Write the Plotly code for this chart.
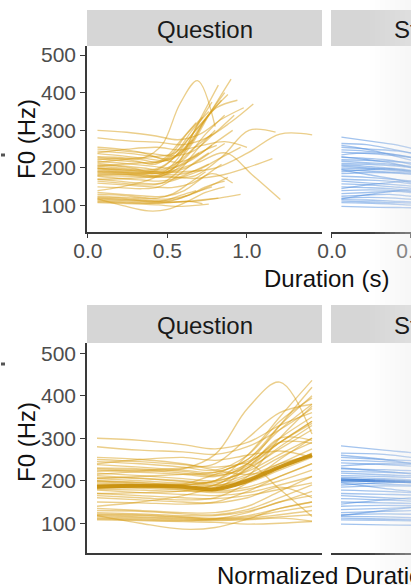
import numpy as np
import plotly.graph_objects as go

# ---------------------------------------------------------------- data
# F0 contours sampled at fixed points of normalized duration
NORM_POINTS = [0.0, 0.2, 0.4, 0.55, 0.7, 0.85, 1.0]
ONSET_S = 0.06  # voicing onset (s)

# Question utterances: duration (s) and F0 (Hz) at NORM_POINTS
Q_DUR = [0.74, 0.92, 0.98, 0.82, 0.78, 0.70, 0.66, 0.62, 0.85, 0.72,
         0.60, 0.68, 0.80, 0.90, 0.76, 0.72, 0.64, 1.10, 1.35, 1.12,
         0.70, 1.15, 0.66, 0.74, 0.85, 0.70, 0.78, 0.68, 0.82, 0.72,
         0.62, 0.90, 0.76, 0.66, 0.80, 0.70, 0.86, 0.94, 0.88, 0.80,
         0.75, 0.80, 0.72, 0.80, 0.84]
Q_F0 = [
    [215, 222, 228, 262, 370, 432, 310],
    [300, 295, 285, 275, 290, 330, 360],
    [280, 272, 268, 262, 280, 320, 370],
    [245, 240, 232, 225, 260, 340, 395],
    [238, 232, 225, 220, 250, 320, 380],
    [230, 228, 222, 215, 240, 300, 350],
    [225, 220, 215, 210, 235, 290, 335],
    [222, 225, 218, 212, 230, 275, 320],
    [218, 212, 205, 200, 222, 262, 300],
    [212, 206, 200, 195, 215, 255, 290],
    [208, 205, 198, 190, 205, 240, 275],
    [205, 200, 195, 198, 225, 280, 330],
    [200, 195, 192, 188, 200, 232, 265],
    [198, 192, 186, 182, 195, 225, 255],
    [195, 190, 185, 190, 240, 330, 420],
    [192, 188, 182, 178, 210, 300, 375],
    [188, 185, 180, 175, 185, 210, 240],
    [185, 182, 178, 172, 180, 200, 225],
    [182, 185, 190, 200, 240, 290, 288],
    [180, 178, 175, 180, 230, 300, 295],
    [178, 172, 168, 165, 172, 190, 210],
    [190, 188, 192, 215, 240, 180, 116],
    [170, 165, 160, 158, 165, 180, 195],
    [165, 160, 155, 160, 195, 250, 300],
    [160, 155, 150, 148, 160, 185, 160],
    [150, 148, 145, 150, 175, 210, 240],
    [135, 130, 125, 125, 140, 175, 210],
    [130, 128, 122, 120, 132, 160, 190],
    [125, 122, 118, 118, 128, 150, 175],
    [122, 120, 115, 112, 118, 135, 150],
    [120, 118, 114, 110, 115, 128, 140],
    [118, 115, 112, 110, 112, 120, 130],
    [115, 113, 110, 108, 110, 115, 120],
    [112, 110, 108, 106, 108, 112, 105],
    [110, 108, 106, 110, 125, 150, 165],
    [108, 106, 104, 102, 98, 100, 104],
    [250, 245, 238, 232, 245, 290, 340],
    [240, 250, 255, 248, 260, 270, 255],
    [228, 225, 230, 240, 300, 360, 380],
    [118, 100, 86, 90, 110, 135, 150],
    [140, 150, 165, 185, 210, 240, 260],
    [170, 172, 176, 190, 230, 290, 340],
    [255, 250, 240, 225, 215, 230, 260],
    [205, 210, 215, 220, 250, 330, 400],
    [200, 196, 190, 200, 260, 350, 436],
]

# Statement utterances: duration (s) and F0 (Hz) at NORM_POINTS
S_DUR = [0.85, 0.80, 0.90, 0.75, 0.88, 0.82, 0.70, 0.95, 0.78, 0.84,
         0.72, 0.90, 0.80, 0.86, 0.76, 0.92, 0.80, 0.74, 0.88, 0.82,
         0.78, 0.90, 0.84, 0.76, 0.86, 0.80, 0.92, 0.74, 0.88, 0.82,
         0.86, 0.80, 0.90, 0.78]
S_F0 = [
    [282, 272, 262, 250, 238, 222, 200],
    [265, 262, 250, 240, 228, 212, 195],
    [255, 250, 245, 235, 220, 205, 190],
    [248, 245, 238, 230, 218, 200, 182],
    [242, 238, 232, 225, 212, 198, 180],
    [235, 240, 236, 228, 215, 200, 185],
    [228, 226, 222, 215, 205, 192, 175],
    [222, 220, 216, 210, 200, 188, 170],
    [218, 214, 210, 205, 196, 185, 168],
    [212, 210, 206, 200, 192, 180, 165],
    [208, 205, 200, 196, 188, 176, 160],
    [205, 200, 195, 190, 182, 172, 158],
    [200, 198, 194, 188, 180, 170, 155],
    [196, 192, 188, 184, 178, 168, 152],
    [190, 195, 198, 192, 182, 170, 155],
    [185, 188, 186, 180, 172, 160, 148],
    [178, 175, 170, 165, 158, 150, 140],
    [170, 168, 165, 160, 152, 145, 135],
    [165, 160, 155, 150, 145, 138, 128],
    [158, 155, 150, 146, 140, 132, 124],
    [150, 148, 145, 140, 135, 128, 120],
    [140, 142, 140, 135, 130, 124, 116],
    [132, 135, 138, 134, 128, 120, 112],
    [125, 128, 130, 126, 120, 114, 108],
    [120, 122, 120, 116, 112, 108, 102],
    [116, 115, 112, 110, 106, 102, 98],
    [112, 110, 108, 105, 102, 98, 95],
    [108, 107, 105, 102, 100, 96, 92],
    [98, 96, 95, 94, 92, 90, 88],
    [230, 222, 212, 200, 188, 176, 162],
    [195, 182, 170, 158, 148, 140, 132],
    [145, 155, 162, 165, 160, 150, 138],
    [118, 130, 140, 145, 142, 135, 125],
    [260, 250, 235, 222, 210, 196, 180],
]

# Smoothed mean contours over normalized duration
Q_MEAN = [186, 188, 186, 180, 200, 232, 260]
S_MEAN = [202, 200, 196, 192, 186, 178, 165]

FACETS = ["Question", "Statement"]
Y_TICKS = [100, 200, 300, 400, 500]
X_TICKS = [0.0, 0.5, 1.0]

# ---------------------------------------------------------------- style
W, H = 411, 585
FONT = "Liberation Sans"
GOLD = "rgba(215,158,22,0.5)"
GOLD_MEAN = "rgba(198,142,8,0.9)"
BLUE = "rgba(70,136,222,0.5)"
BLUE_MEAN = "rgba(55,120,210,0.75)"
AXIS_COL = "#3a3a3a"
STRIP_COL = "#D6D6D6"


def px_x(p):
    return p / W


def px_y(p):
    return 1 - p / H


fig = go.Figure()

norm = np.array(NORM_POINTS)


def add_line(x, y, color, width, xa, ya):
    fig.add_trace(go.Scatter(
        x=x, y=y, mode="lines", xaxis=xa, yaxis=ya,
        line=dict(color=color, width=width, shape="spline", smoothing=1.0),
        hoverinfo="skip", showlegend=False))


# raw-time panels (top row)
for dur, f0 in zip(Q_DUR, Q_F0):
    add_line(ONSET_S + norm * dur, f0, GOLD, 1.35, "x", "y")
for dur, f0 in zip(S_DUR, S_F0):
    add_line(ONSET_S + norm * dur, f0, BLUE, 1.35, "x2", "y2")

# normalized-time panels (bottom row)
for f0 in Q_F0:
    add_line(norm, f0, GOLD, 1.35, "x3", "y3")
add_line(norm, Q_MEAN, GOLD_MEAN, 4, "x3", "y3")
for f0 in S_F0:
    add_line(norm, f0, BLUE, 1.35, "x4", "y4")
add_line(norm, S_MEAN, BLUE_MEAN, 3, "x4", "y4")

# ---------------------------------------------------------------- axes
LEFT_DOM = [px_x(87), px_x(322)]
RIGHT_DOM = [px_x(331), 1.0]
TOP_DOM = [px_y(232), px_y(46)]
BOT_DOM = [px_y(553), px_y(343)]

tickfont = dict(family=FONT, size=21, color="#4D4D4D")

xbase = dict(showgrid=False, zeroline=False, showline=True, linecolor=AXIS_COL,
             linewidth=1.6, ticks="outside", ticklen=4, tickwidth=1.3,
             tickcolor=AXIS_COL, tickfont=tickfont, ticklabeloverflow="allow",
             ticklabelstandoff=-5, automargin=False)
ybase = dict(showgrid=False, zeroline=False, range=[30, 524], automargin=False)

layout_axes = dict(
    xaxis=dict(xbase, domain=LEFT_DOM, anchor="y", range=[-0.006, 1.472],
               tickvals=X_TICKS, ticktext=[f"{v:.1f}" for v in X_TICKS]),
    xaxis2=dict(xbase, domain=RIGHT_DOM, anchor="y2", range=[-0.006, 0.5005],
                tickvals=X_TICKS, ticktext=[f"{v:.1f}" for v in X_TICKS]),
    xaxis3=dict(xbase, domain=LEFT_DOM, anchor="y3", range=[-0.0465, 1.0465],
                ticks="", showticklabels=False),
    xaxis4=dict(xbase, domain=RIGHT_DOM, anchor="y4", range=[-0.0465, 0.326],
                ticks="", showticklabels=False),
    yaxis=dict(ybase, domain=TOP_DOM, anchor="x", showline=True,
               linecolor=AXIS_COL, linewidth=1.6, ticks="outside", ticklen=5,
               tickwidth=1.3, tickcolor=AXIS_COL, tickvals=Y_TICKS,
               tickfont=tickfont),
    yaxis2=dict(ybase, domain=TOP_DOM, anchor="x2", showline=False,
                showticklabels=False),
    yaxis3=dict(ybase, domain=BOT_DOM, anchor="x3", showline=True,
                linecolor=AXIS_COL, linewidth=1.6, ticks="outside", ticklen=5,
                tickwidth=1.3, tickcolor=AXIS_COL, tickvals=Y_TICKS,
                tickfont=tickfont),
    yaxis4=dict(ybase, domain=BOT_DOM, anchor="x4", showline=False,
                showticklabels=False),
)

# ---------------------------------------------------------------- strips
shapes = []
annotations = []
strip_font = dict(family=FONT, size=24, color="#1A1A1A")
title_font = dict(family=FONT, size=24, color="#111111")

for top, bottom in [(10, 46), (305, 343)]:
    for (x0, x1), label in zip([(87, 322), (331, 420)], FACETS):
        shapes.append(dict(type="rect", xref="paper", yref="paper",
                           x0=px_x(x0), x1=px_x(x1), y0=px_y(bottom), y1=px_y(top),
                           fillcolor=STRIP_COL, line=dict(width=0), layer="below"))
        centre = (x0 + (x0 + 235)) / 2
        annotations.append(dict(text=label, xref="paper", yref="paper",
                                x=px_x(centre), y=px_y((top + bottom) / 2 + 1),
                                xanchor="center", yanchor="middle",
                                showarrow=False, font=strip_font))

# axis titles shared across facets
annotations += [
    dict(text="Duration (s)", xref="paper", yref="paper", x=px_x(326.5),
         y=px_y(278), xanchor="center", yanchor="middle", showarrow=False,
         font=title_font),
    dict(text="Normalized Duration", xref="paper", yref="paper", x=px_x(326.5),
         y=px_y(575), xanchor="center", yanchor="middle", showarrow=False,
         font=title_font),
    dict(text="F0 (Hz)", xref="paper", yref="paper", x=px_x(26), y=px_y(139),
         xanchor="center", yanchor="middle", textangle=-90, showarrow=False,
         font=title_font),
    dict(text="F0 (Hz)", xref="paper", yref="paper", x=px_x(26), y=px_y(442),
         xanchor="center", yanchor="middle", textangle=-90, showarrow=False,
         font=title_font),
]

# small marks at the left margin
for yc in (155, 364):
    shapes.append(dict(type="rect", xref="paper", yref="paper",
                       x0=px_x(1), x1=px_x(5), y0=px_y(yc + 1.5), y1=px_y(yc - 1.5),
                       fillcolor="#555555", line=dict(width=0)))

# soft fade along the right edge
for x0 in range(370, 411, 5):
    shapes.append(dict(type="rect", xref="paper", yref="paper",
                       x0=px_x(x0), x1=1.0, y0=0, y1=1,
                       fillcolor="rgba(238,238,238,0.06)",
                       line=dict(width=0), layer="above"))

fig.update_layout(
    template="none",
    width=W, height=H,
    margin=dict(l=0, r=0, t=0, b=0, autoexpand=False),
    paper_bgcolor="white", plot_bgcolor="white",
    font=dict(family=FONT),
    showlegend=False,
    shapes=shapes,
    annotations=annotations,
    **layout_axes,
)

fig.write_html("out.html")
